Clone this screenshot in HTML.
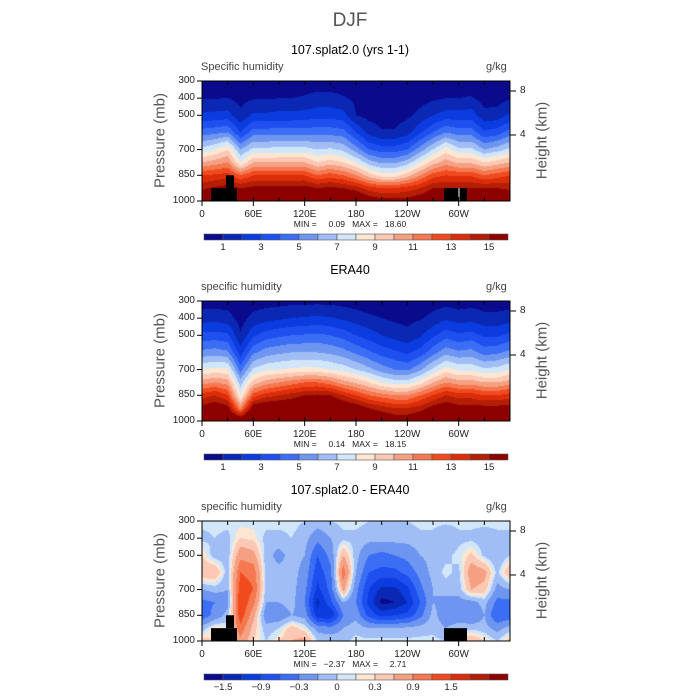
<!DOCTYPE html>
<html><head><meta charset="utf-8"><style>
body{margin:0;background:#fff;width:700px;height:700px;overflow:hidden;font-family:"Liberation Sans",sans-serif}
#root{position:relative;width:700px;height:700px}
.t{position:absolute;white-space:nowrap}
</style></head><body><div id="root">
<div class="t" style="left:0;width:700px;text-align:center;top:10px;font-size:19px;color:#555">DJF</div>
</div>
<script>
const P=[300,400,500,600,700,775,850,925,1000];
const LON=[0,15,30,45,60,75,90,105,120,135,150,165,180,195,210,225,240,255,270,285,300,315,330,345,360];
const q1=[[0.3,0.9,2.2,4.5,7.3,10,13,14.8,16],[0.35,0.95,2.3,4.7,8,10.5,13.2,15.2,16.5],[0.4,1.0,2.4,5,9,11,13.5,15.5,17],[0.3,0.7,1.2,3,6,8,12,15,17],[0.4,0.9,2.2,4.5,7.3,10,13,15.3,17],[0.4,0.9,2.2,4.5,7.3,10,13,15.3,17],[0.45,1.0,2.3,4.6,7.4,10,13,15.3,17],[0.45,1.0,2.3,4.6,7.4,10,13,15.3,17],[0.5,1.1,2.4,4.6,7.4,10,13,15.5,17.5],[0.5,1.3,2.6,4.6,7,9,12,15,17.5],[0.5,1.3,2.6,4.6,7.2,9.5,12.5,15.3,17.5],[0.4,1.1,2.4,4.4,6.8,9,12,15,17],[0.3,0.8,1.0,3.0,5.5,8,11,14.5,17],[0.2,0.4,0.7,1.6,4,6.5,9.5,13.5,16],[0.1,0.3,0.6,1.1,3.5,5.8,8.5,13,15.5],[0.1,0.3,0.6,1.1,3.5,5.8,8.5,13,15.5],[0.2,0.4,0.8,1.6,4,6.5,9.5,13.5,15.5],[0.3,0.6,1.3,2.8,5.5,8,11,14,16],[0.3,0.8,2,4,7,9.5,12.5,15,16.5],[0.4,1.0,2.4,5,8.5,10.5,13,15,17],[0.4,1.0,2.4,4.5,7.3,9.8,12.8,15,17],[0.4,1.1,2.5,4.5,7.3,9.8,12.8,15,17],[0.2,0.6,1.3,3.2,6,9,12,15,17],[0.2,0.6,1.4,3.5,6.5,9.5,12.5,15,17],[0.3,0.9,2.2,4.5,7.3,10,13,14.8,16]];
const q2=[[0.5,1.5,3.3,5.3,8.0,10.5,13.5,15.5,17.5],[0.5,1.6,3.4,5.5,8.3,11,14,16,17.5],[0.5,1.4,3.2,5.2,8.2,10.5,13,15.5,17.5],[0.3,0.6,1.1,2.5,4.5,6.5,8,11,17],[0.5,1.3,2.8,4.8,7.2,9.5,12.5,16,18],[0.6,1.6,3.5,5.5,7.8,10.5,13.5,16.5,18],[0.6,1.8,3.8,5.8,8.0,11,14,16.5,18],[0.7,2.0,4.0,6.0,8.2,11.5,14.5,16.5,18],[0.7,2.1,4.1,6.0,8.3,12,15,17,18],[0.7,2.2,4.2,6.0,8.3,12,15.2,17,18],[0.7,2.1,4.0,5.8,8.0,11.5,15,17,18],[0.6,1.8,3.6,5.4,7.6,10.5,14,16.5,17.5],[0.5,1.5,3.0,4.8,7.0,9.8,13,16,17.5],[0.4,1.2,2.5,4.2,6.3,9,12,15,17],[0.3,1.0,2.0,3.6,5.5,8,11.5,14.5,16.5],[0.3,0.8,1.6,3.2,5.0,7.5,11,14,16],[0.3,0.7,1.3,2.8,4.8,7.5,11,14,16],[0.4,0.9,1.8,3.4,5.8,8.5,12,14.5,16.5],[0.5,1.3,2.8,4.6,7.2,10,13,15.5,17],[0.6,1.8,3.6,5.6,8.5,11,14,16,17.5],[0.5,1.5,3.2,5.2,7.8,10.5,13.5,15.5,17.5],[0.6,1.6,3.4,5.4,7.8,10.5,13.5,15.5,17.5],[0.5,1.3,2.8,4.6,7.2,10,13,15.5,17.5],[0.5,1.3,2.8,4.8,7.4,10,13,15.5,17.5],[0.5,1.5,3.3,5.3,8.0,10.5,13.5,15.5,17.5]];
const dq=[[-0.05,-0.15,0.1,0.3,-0.3,-0.7,-0.8,-0.2,0.2],[-0.05,-0.1,-0.2,0.3,-0.2,-0.6,-0.5,0.1,0.1],[-0.05,-0.15,-0.2,-0.2,-0.3,-0.4,-0.2,0,0],[-0.05,0.1,0.5,0.9,1.1,1.2,1.1,0.8,0.5],[-0.05,0.05,0.4,0.8,0.9,0.7,0.4,0.2,0.1],[-0.05,-0.15,-0.2,-0.2,-0.2,-0.3,-0.5,-0.2,-0.1],[-0.05,-0.15,-0.4,-0.2,-0.2,-0.3,-0.5,-0.1,0.1],[-0.05,-0.1,-0.2,-0.2,-0.2,-0.2,-0.3,0.2,0.3],[-0.1,-0.2,-0.3,-0.4,-0.5,-0.6,-0.4,0,0.4],[-0.15,-0.5,-0.9,-1.1,-1.3,-1.6,-1.4,-0.4,-0.1],[-0.1,-0.3,-0.5,-0.7,-0.8,-1.0,-1.5,-0.5,-0.1],[-0.05,-0.15,0.3,0.8,0.4,-0.3,-0.6,-0.3,-0.15],[-0.05,-0.15,-0.2,-0.3,-0.5,-0.6,-0.4,-0.15,-0.05],[-0.1,-0.2,-0.6,-0.9,-1.2,-1.3,-1.0,-0.3,-0.05],[-0.1,-0.2,-0.7,-1.0,-1.6,-1.9,-1.3,-0.3,-0.05],[-0.1,-0.2,-0.6,-1.0,-1.6,-1.8,-1.2,-0.3,-0.05],[-0.1,-0.2,-0.5,-0.8,-1.3,-1.5,-1.1,-0.25,-0.05],[-0.05,-0.15,-0.3,-0.5,-0.7,-0.9,-0.7,-0.2,-0.05],[-0.05,-0.15,-0.2,-0.2,-0.3,-0.3,-0.2,-0.15,-0.05],[-0.05,-0.3,-0.15,-0.05,-0.2,-0.4,-0.5,-0.3,-0.1],[-0.05,-0.15,-0.05,-0.15,-0.2,-0.4,-0.5,-0.15,0.1],[-0.05,-0.15,0.15,0.5,0.3,-0.4,-0.6,-0.15,0.3],[-0.05,-0.2,-0.15,0.4,0.2,-0.2,-0.3,-0.2,0.1],[-0.05,-0.15,-0.3,-0.15,-0.4,-0.7,-0.9,-0.4,-0.1],[-0.05,-0.15,-0.1,0.3,-0.3,-0.7,-0.8,-0.2,0.2]];
const qLevels=[1,2,3,4,5,6,7,8,9,10,11,12,13,14,15];
const qLabels=["1","3","5","7","9","11","13","15"];
const dLevels=[-1.8,-1.5,-1.2,-0.9,-0.6,-0.3,-0.1,0,0.1,0.3,0.6,0.9,1.2,1.5,1.8];
const dLabels=["\u22121.5","\u22120.9","\u22120.3","0","0.3","0.9","1.5"];
const pTicks=[300,400,500,700,850,1000];
const xTicks=["0","60E","120E","180","120W","60W"];
const COLORS=["#0a0a8c","#0a28b4","#0a3ce0","#1e50f0","#3c6ef5","#6e96f0","#a0bef5","#d2e6fa","#fde6d2","#fac8b4","#f5a082","#f57850","#f04b1e","#dc2d0a","#b41e05","#8c0000"];
const panels=[
 {top:81,title:"107.splat2.0 (yrs 1-1)",lbl:"Specific humidity",data:q1,lev:qLevels,labs:qLabels,mm:"MIN =     0.09   MAX =   18.60",topo:true},
 {top:301,title:"ERA40",lbl:"specific humidity",data:q2,lev:qLevels,labs:qLabels,mm:"MIN =     0.14   MAX =   18.15",topo:false},
 {top:521,title:"107.splat2.0 - ERA40",lbl:"specific humidity",data:dq,lev:dLevels,labs:dLabels,mm:"MIN =   \u22122.37   MAX =     2.71",topo:true}];
const X0=202,W=308,H=120;
const xs=l=>X0+l/360*W;
const root=document.getElementById('root');
function txt(s,css,name){const d=document.createElement('div');d.className='t';d.textContent=s;d.style.cssText=css;


root.appendChild(d);return d;}
function interp(g,lon,p){let i=Math.min(Math.floor(lon/15),23);let fx=(lon-LON[i])/15;let j=0;while(j<7&&p>P[j+1])j++;let fy=(p-P[j])/(P[j+1]-P[j]);
const a=g[i][j]*(1-fx)+g[i+1][j]*fx,b=g[i][j+1]*(1-fx)+g[i+1][j+1]*fx;return a*(1-fy)+b*fy;}
panels.forEach((pn,k)=>{
 const T=pn.top;const ys=p=>T+H-(1000-p)/700*H;
 txt(pn.title,`left:0;width:700px;text-align:center;top:${T-38}px;font-size:12.5px;color:#000`,'panel-title-'+k);
 txt(pn.lbl,`left:201px;top:${T-20}px;font-size:11px;color:#444`,'variable-label-'+k);
 txt("g/kg",`left:486px;top:${T-20}px;font-size:11px;color:#444`,'units-label-'+k);
 txt("Pressure (mb)",`left:105px;width:110px;text-align:center;top:${T+51}px;font-size:15px;color:#555;transform:rotate(-90deg)`,'y-axis-title-'+k);
 txt("Height (km)",`left:487px;width:110px;text-align:center;top:${T+51}px;font-size:15px;color:#555;transform:rotate(-90deg)`,'y2-axis-title-'+k);
 const c=document.createElement('canvas');c.width=W;c.height=H;c.style.cssText=`position:absolute;left:${X0}px;top:${T}px`;
 
 
 root.appendChild(c);const ctx=c.getContext('2d');const img=ctx.createImageData(W,H);
 const rgb=COLORS.map(h=>[parseInt(h.substr(1,2),16),parseInt(h.substr(3,2),16),parseInt(h.substr(5,2),16)]);
 for(let y=0;y<H;y++)for(let x=0;x<W;x++){const lon=(x+0.5)/W*360,p=300+(y+0.5)/H*700;const v=interp(pn.data,lon,p);let ci=0;while(ci<pn.lev.length&&v>=pn.lev[ci])ci++;const o=(y*W+x)*4,cc=rgb[ci];img.data[o]=cc[0];img.data[o+1]=cc[1];img.data[o+2]=cc[2];img.data[o+3]=255;}
 ctx.putImageData(img,0,0);
 const NS='http://www.w3.org/2000/svg';const s=document.createElementNS(NS,'svg');s.setAttribute('width',700);s.setAttribute('height',700);s.style.cssText='position:absolute;left:0;top:0';
 
 
 root.appendChild(s);
 function el(t,a,name){const e=document.createElementNS(NS,t);for(const q in a)e.setAttribute(q,a[q]);
 
 
 s.appendChild(e);return e;}
 if(pn.topo){el('rect',{x:211,y:ys(925),width:26,height:ys(1000)-ys(925),fill:'#000'},'topography');
  el('rect',{x:226,y:ys(850),width:8,height:ys(925)-ys(850),fill:'#000'},'topography');
  el('rect',{x:444,y:ys(925),width:23,height:ys(1000)-ys(925),fill:'#000'},'topography');
  if(k==0)el('rect',{x:458.5,y:ys(925),width:1,height:ys(1000)-ys(925),fill:'#fff'},'topography-gap');}
 el('rect',{x:X0,y:T,width:W,height:H,fill:'none',stroke:'#000','stroke-width':1},'plot-frame');
 for(let l=30;l<360;l+=30){el('line',{x1:xs(l),x2:xs(l),y1:T,y2:T+4,stroke:'#000'},'x-minor-tick');el('line',{x1:xs(l),x2:xs(l),y1:T+H,y2:T+H-4,stroke:'#000'},'x-minor-tick');}
 xTicks.forEach((t,i)=>{const x=xs(i*60);el('line',{x1:x,x2:x,y1:T+H,y2:T+H+5,stroke:'#000'},'x-tick');
  txt(t,`left:${x-20}px;width:40px;text-align:center;top:${T+H+8}px;font-size:10px;color:#222`,'x-tick-label');});
 pTicks.forEach(p=>{const y=ys(p);el('line',{x1:X0-5,x2:X0,y1:y,y2:y,stroke:'#000'},'y-tick');
  txt(String(p),`left:150px;width:45px;text-align:right;top:${y-6}px;font-size:10px;color:#222`,'y-tick-label');});
 [[8,10],[4,54]].forEach(h=>{const y=T+h[1];el('line',{x1:X0+W,x2:X0+W+6,y1:y,y2:y,stroke:'#000'},'y2-tick');
  txt(String(h[0]),`left:520px;top:${y-6}px;font-size:10px;color:#222`,'y2-tick-label');});
 txt(pn.mm,`left:0;width:700px;text-align:center;top:${T+H+18}px;font-size:8.5px;color:#222;white-space:pre`,'min-max-label-'+k);
 const cy=T+H+33;
 COLORS.forEach((col,i)=>el('rect',{x:204+i*19,y:cy,width:19,height:6,fill:col,stroke:'#555','stroke-width':0.6},'colorbar-box'));
 pn.labs.forEach((l,i)=>{const x=204+19*(1+2*i);txt(l,`left:${x-20}px;width:40px;text-align:center;top:${cy+8}px;font-size:9.5px;color:#222`,'colorbar-label');});
});
</script></body></html>
